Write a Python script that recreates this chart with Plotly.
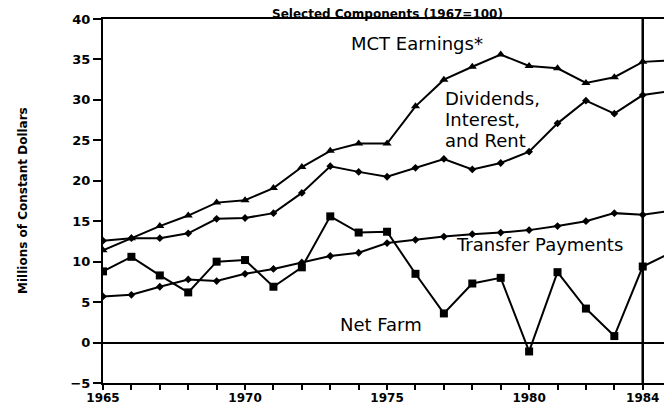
import plotly.graph_objects as go

years = list(range(1965, 1986))

mct_earnings = [11.4, 12.9, 14.4, 15.7, 17.3, 17.6, 19.1, 21.7, 23.7, 24.6, 24.6,
                29.2, 32.5, 34.1, 35.6, 34.2, 33.9, 32.1, 32.8, 34.7, 34.9]
dividends = [12.6, 12.9, 12.9, 13.5, 15.3, 15.4, 16.0, 18.5, 21.8, 21.1, 20.5,
             21.6, 22.7, 21.4, 22.2, 23.6, 27.1, 29.9, 28.3, 30.6, 31.1]
transfers = [5.7, 5.9, 6.9, 7.8, 7.6, 8.5, 9.1, 9.9, 10.7, 11.1, 12.3,
             12.7, 13.1, 13.4, 13.6, 13.9, 14.4, 15.0, 16.0, 15.8, 16.3]
net_farm = [8.8, 10.6, 8.3, 6.2, 10.0, 10.2, 6.9, 9.3, 15.6, 13.6, 13.7,
            8.5, 3.6, 7.3, 8.0, -1.1, 8.7, 4.2, 0.8, 9.4, 11.1]

x_tick_vals = [1965, 1970, 1975, 1980, 1984]
x_tick_text = ["1965", "1970", "1975", "1980", "1984"]
y_tick_vals = [-5, 0, 5, 10, 15, 20, 25, 30, 35, 40]
divider_year = 1984

title_text = "Selected Components (1967=100)"
y_title_text = "Millions of Constant Dollars"

fig = go.Figure()

line_style = dict(color="black", width=2)

fig.add_trace(go.Scatter(x=years, y=mct_earnings, mode="lines+markers",
                         line=line_style, name="MCT Earnings*",
                         marker=dict(symbol="triangle-up", size=8, color="black")))
fig.add_trace(go.Scatter(x=years, y=dividends, mode="lines+markers",
                         line=line_style, name="Dividends, Interest, and Rent",
                         marker=dict(symbol="diamond", size=6, color="black")))
fig.add_trace(go.Scatter(x=years, y=transfers, mode="lines+markers",
                         line=line_style, name="Transfer Payments",
                         marker=dict(symbol="diamond", size=6, color="black")))
fig.add_trace(go.Scatter(x=years, y=net_farm, mode="lines+markers",
                         line=line_style, name="Net Farm",
                         marker=dict(symbol="square", size=8, color="black")))

fig.add_vline(x=divider_year, line=dict(color="black", width=2.5))

label_font = dict(family="DejaVu Sans", size=18, color="black")
annotations = [
    dict(text="MCT Earnings*", x=1973.7, y=37.0),
    dict(text="Dividends,", x=1977.0, y=30.2),
    dict(text="Interest,", x=1977.0, y=27.6),
    dict(text="and Rent", x=1977.0, y=25.0),
    dict(text="Transfer Payments", x=1977.4, y=12.1),
    dict(text="Net Farm", x=1973.3, y=2.2),
]
for a in annotations:
    fig.add_annotation(text=a["text"], x=a["x"], y=a["y"], xref="x", yref="y",
                       xanchor="left", yanchor="middle", showarrow=False,
                       font=label_font, borderpad=0)

fig.add_annotation(text=title_text, xref="paper", yref="paper", x=0.5, y=1,
                   xanchor="center", yanchor="bottom", yshift=-3, showarrow=False,
                   borderpad=0,
                   font=dict(family="DejaVu Sans", size=12, color="black", weight="bold"))
fig.add_annotation(text=y_title_text, xref="paper", yref="paper", x=0, y=0.5,
                   xanchor="center", yanchor="middle", xshift=-80, showarrow=False,
                   textangle=-90,
                   font=dict(family="DejaVu Sans", size=12, color="black", weight="bold"))

tick_font = dict(family="DejaVu Sans", size=13, color="black", weight="bold")

fig.update_layout(
    width=664, height=397,
    margin=dict(l=95, r=0, t=11, b=22),
    plot_bgcolor="white", paper_bgcolor="white",
    showlegend=False,
    xaxis=dict(range=[1965, 1985.03], tickvals=x_tick_vals, ticktext=x_tick_text,
               automargin=False, ticklabelstandoff=-2,
               ticks="outside", ticklen=5, tickwidth=2, tickcolor="black",
               showline=True, linecolor="black", linewidth=2, mirror=True,
               showgrid=False, zeroline=False,
               tickfont=dict(family="DejaVu Sans", size=12, color="black", weight="bold"),
               minor=dict(dtick=1, tick0=1965, ticks="outside", ticklen=5,
                          tickwidth=2, tickcolor="black", showgrid=False)),
    yaxis=dict(range=[-5, 40], tickvals=y_tick_vals, ticks="outside", ticklen=8,
               automargin=False,
               tickwidth=2, tickcolor="black", showline=True, linecolor="black",
               linewidth=2, showgrid=False, zeroline=True, zerolinecolor="black",
               zerolinewidth=1.5, tickfont=tick_font),
)

fig.write_html("out.html")
